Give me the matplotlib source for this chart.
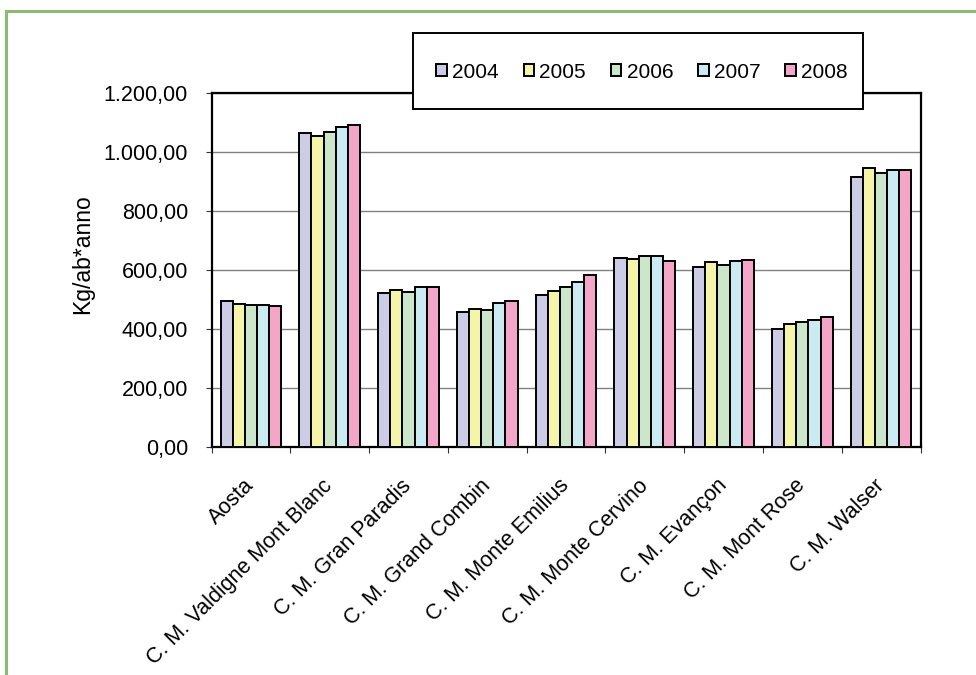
import matplotlib
matplotlib.use("Agg")
import matplotlib.pyplot as plt
import numpy as np
from matplotlib.patches import Rectangle
from matplotlib.lines import Line2D
from matplotlib.ticker import FuncFormatter, FixedLocator

categories = ["Aosta", "C. M. Valdigne Mont Blanc", "C. M. Gran Paradis",
              "C. M. Grand Combin", "C. M. Monte Emilius", "C. M. Monte Cervino",
              "C. M. Evançon", "C. M. Mont Rose", "C. M. Walser"]
years = ["2004", "2005", "2006", "2007", "2008"]
v2004 = [495, 1063, 520, 455, 515, 641, 608, 399, 916]
v2005 = [484, 1053, 531, 466, 527, 637, 627, 416, 946]
v2006 = [479, 1067, 524, 464, 543, 646, 616, 424, 930]
v2007 = [481, 1083, 540, 486, 557, 645, 631, 428, 939]
v2008 = [478, 1092, 542, 495, 581, 631, 633, 438, 939]
series = [v2004, v2005, v2006, v2007, v2008]
colors = ["#CCCCE6", "#F5F5AA", "#CCE6CC", "#CCEAF2", "#F4A6C8"]
yticks = [0, 200, 400, 600, 800, 1000, 1200]

plt.rcParams['font.family'] = ['Liberation Sans', 'DejaVu Sans']

W, H = 976, 675
fig = plt.figure(figsize=(W / 100, H / 100), dpi=100)
fig.patch.set_facecolor("white")

def px(x0, y0, x1, y1):
    return [x0 / W, 1 - y1 / H, (x1 - x0) / W, (y1 - y0) / H]

ax = fig.add_axes(px(211.5, 93, 920.5, 446.5))

n = len(categories)
w = 1 / 6.5
x = np.arange(n)
for j, (vals, c, yr) in enumerate(zip(series, colors, years)):
    ax.bar(x + (j - 2) * w, vals, width=w, color=c, edgecolor="black",
           linewidth=1.4, label=yr, zorder=3)

ax.set_xlim(-0.5, n - 0.5)
ax.set_ylim(0, 1200)
ax.set_yticks(yticks)

def fmt(v, pos):
    s = f"{v:,.2f}"
    return s.replace(",", "X").replace(".", ",").replace("X", ".")
ax.yaxis.set_major_formatter(FuncFormatter(fmt))
ax.yaxis.grid(True, color="#808080", linewidth=1.0, zorder=0)
ax.set_axisbelow(True)

ax.set_xticks(x)
ax.set_xticklabels(categories, rotation=45, ha="right", va="center",
                   rotation_mode="anchor", fontsize=15.5)
ax.xaxis.set_minor_locator(FixedLocator(np.arange(-0.5, n, 1.0)))
ax.tick_params(axis="x", which="major", length=0, pad=26)
ax.tick_params(axis="x", which="minor", length=4, width=0.8, direction="out",
               color="#333333")
ax.tick_params(axis="y", which="major", length=4, width=0.8, direction="out",
               labelsize=15.5, pad=13, color="#333333")

for s in ax.spines.values():
    s.set_color("black")
    s.set_linewidth(1.6)

fig.text(83 / W, 1 - 254 / H, "Kg/ab*anno", rotation=90, ha="center",
         va="center", fontsize=16.5)

# legend box
fig.patches.append(Rectangle((413 / W, 1 - 109 / H), 450 / W, 76 / H,
                             transform=fig.transFigure, facecolor="white",
                             edgecolor="black", linewidth=1.4, zorder=4))
handles, labels = ax.get_legend_handles_labels()
leg = fig.legend(handles, labels, loc="center",
                 bbox_to_anchor=(642 / W, 1 - 72 / H), ncol=5, frameon=False,
                 fontsize=15, handlelength=0.5, handleheight=0.5,
                 handletextpad=0.25, columnspacing=1.2, borderpad=0)
leg.set_zorder(5)

# green frame
fig.add_artist(Line2D([6 / W, 6 / W], [0, 1 - 11 / H], transform=fig.transFigure,
                      color="#8DBA72", linewidth=2.2))
fig.add_artist(Line2D([6 / W, 1], [1 - 11 / H, 1 - 11 / H],
                      transform=fig.transFigure, color="#8DBA72", linewidth=2.2))

fig.savefig("out.png", dpi=100)
